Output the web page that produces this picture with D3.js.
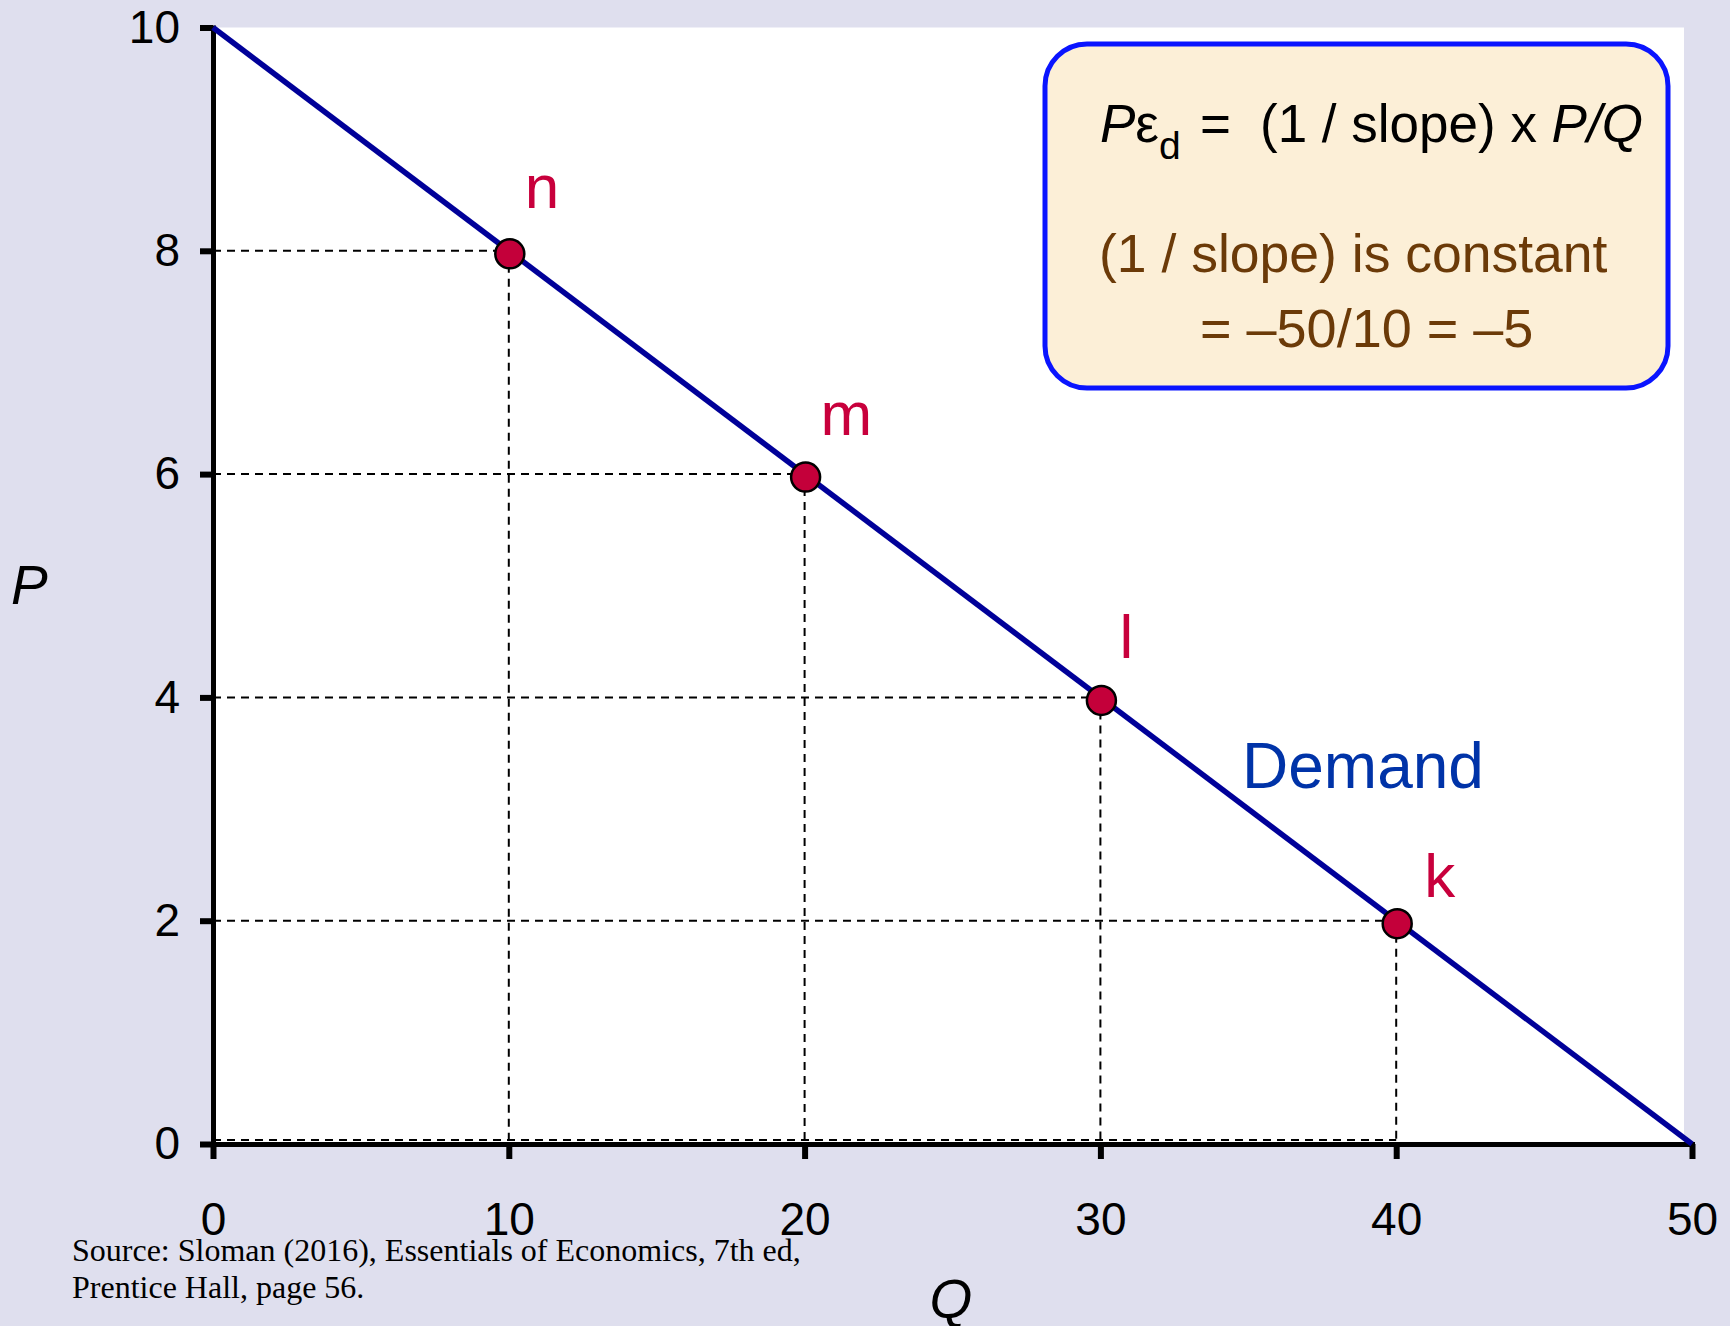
<!DOCTYPE html>
<html>
<head>
<meta charset="utf-8">
<script src="https://cdn.jsdelivr.net/npm/d3@7"></script>
<style>
  html, body { margin: 0; padding: 0; background: #dfdfee; }
  svg { display: block; }
</style>
</head>
<body>
<svg id="chart" width="1730" height="1326"></svg>
<script>
// ---- data ----
const demandQ = [0, 50];
const demandP = [10, 0];
const pointLabels = ["n", "m", "l", "k"];
const pointQ = [10, 20, 30, 40];
const pointP = [8, 6, 4, 2];
const xTicks = [0, 10, 20, 30, 40, 50];
const yTicks = [0, 2, 4, 6, 8, 10];
const curveLabel = "Demand";
const xTitle = "Q";
const yTitle = "P";
const sourceLines = ["Source: Sloman (2016), Essentials of Economics, 7th ed,", "Prentice Hall, page 56."];

// ---- drawing ----
const svg = d3.select("#chart");
const sans = "'Liberation Sans', Arial, Helvetica, sans-serif";
const serif = "'Liberation Serif', 'Times New Roman', serif";

const x = d3.scaleLinear().domain([0, 50]).range([213, 1692]);
const y = d3.scaleLinear().domain([0, 10]).range([1144, 27.5]);

svg.append("rect").attr("width", 1730).attr("height", 1326).attr("fill", "#dfdfee");

// white plot area
svg.append("rect")
  .attr("x", x(0)).attr("y", y(10))
  .attr("width", x(50) - 8 - x(0)).attr("height", y(0) - y(10))
  .attr("fill", "#ffffff");

// dashed guides
const dashG = svg.append("g").attr("stroke", "#000").attr("stroke-width", 2)
  .attr("stroke-dasharray", "8,6").attr("fill", "none");
pointQ.forEach((q, i) => {
  dashG.append("line").attr("x1", x(0)).attr("x2", x(q)).attr("y1", y(pointP[i])).attr("y2", y(pointP[i]));
  dashG.append("line").attr("x1", x(q)).attr("x2", x(q)).attr("y1", y(pointP[i])).attr("y2", y(0));
});
dashG.append("line").attr("x1", x(0)).attr("x2", x(d3.max(pointQ)))
  .attr("y1", y(0) - 4).attr("y2", y(0) - 4);

// axes
const yAxis = d3.axisLeft(y).tickValues(yTicks).tickSize(13).tickSizeOuter(0).tickPadding(20)
  .tickFormat(d3.format("d"));
const xAxis = d3.axisBottom(x).tickValues(xTicks).tickSize(15).tickSizeOuter(0).tickPadding(43)
  .tickFormat(d3.format("d"));

const gy = svg.append("g").attr("transform", `translate(${x(0)},0)`).call(yAxis);
const gx = svg.append("g").attr("transform", `translate(0,${y(0)})`).call(xAxis);
[gx, gy].forEach(g => {
  g.select(".domain").attr("stroke", "#000").attr("stroke-width", 5).attr("stroke-linecap", "square");
  g.selectAll(".tick line").attr("stroke", "#000").attr("stroke-width", 6);
  g.selectAll(".tick text").attr("fill", "#000").style("font-family", sans).style("font-size", "46px");
});

// demand line
svg.append("path")
  .datum(demandQ.map((q, i) => [q, demandP[i]]))
  .attr("d", d3.line().x(d => x(d[0])).y(d => y(d[1])))
  .attr("stroke", "#000099").attr("stroke-width", 5.5).attr("fill", "none");

// points
svg.append("g").selectAll("circle").data(pointQ).join("circle")
  .attr("cx", d => x(d) + 1).attr("cy", (d, i) => y(pointP[i]) + 3)
  .attr("r", 14.5).attr("fill", "#c4003a").attr("stroke", "#000").attr("stroke-width", 2.5);

// point labels
const labelDx = [16, 16, 19, 28];
const labelDy = [-43, -39, -39, -24];
svg.append("g").selectAll("text").data(pointLabels).join("text")
  .attr("x", (d, i) => x(pointQ[i]) + labelDx[i])
  .attr("y", (d, i) => y(pointP[i]) + labelDy[i])
  .attr("fill", "#c8003c").style("font-family", sans).style("font-size", "62px")
  .text(d => d);

// demand label
svg.append("text").attr("x", 1242).attr("y", 788)
  .attr("fill", "#0033a8").style("font-family", sans).style("font-size", "64px")
  .text(curveLabel);

// axis titles
svg.append("text").attr("x", 11).attr("y", 604)
  .style("font-family", sans).style("font-size", "55px").style("font-style", "italic")
  .attr("fill", "#000").text(yTitle);
svg.append("text").attr("x", 951).attr("y", 1318).attr("text-anchor", "middle")
  .style("font-family", sans).style("font-size", "55px").style("font-style", "italic")
  .attr("fill", "#000").text(xTitle);

// formula box
svg.append("rect").attr("x", 1045).attr("y", 44).attr("width", 623).attr("height", 344)
  .attr("rx", 42).attr("ry", 42)
  .attr("fill", "#fcefd7").attr("stroke", "#0a14ff").attr("stroke-width", 5);

const f1 = svg.append("text").attr("y", 142).style("font-family", sans).style("font-size", "53px").attr("fill", "#000");
f1.append("tspan").attr("x", 1100).style("font-style", "italic").text("P");
f1.append("tspan").text("ε");
f1.append("tspan").attr("dy", 17).style("font-size", "39px").text("d");
f1.append("tspan").attr("dy", -17).attr("x", 1200).text("=");
f1.append("tspan").attr("x", 1260).text("(1 / slope) x ");
f1.append("tspan").style("font-style", "italic").text("P/Q");

svg.append("text").attr("x", 1099).attr("y", 272)
  .style("font-family", sans).style("font-size", "53.5px").attr("fill", "#6b3a08")
  .text("(1 / slope) is constant");
svg.append("text").attr("x", 1200).attr("y", 347)
  .style("font-family", sans).style("font-size", "54px").attr("fill", "#6b3a08")
  .text("= –50/10 = –5");

// source note
const src = svg.append("text").style("font-family", serif).style("font-size", "32px").attr("fill", "#000");
sourceLines.forEach((s, i) => {
  src.append("tspan").attr("x", 72).attr("y", 1261 + i * 37).text(s);
});
</script>
</body>
</html>
